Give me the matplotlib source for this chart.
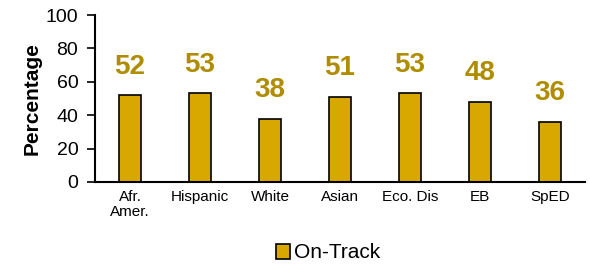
import matplotlib
matplotlib.use("Agg")
import matplotlib.pyplot as plt

categories = ["Afr.\nAmer.", "Hispanic", "White", "Asian", "Eco. Dis", "EB", "SpED"]
on_track = [52, 53, 38, 51, 53, 48, 36]
series_name = "On-Track"
y_ticks = [0, 20, 40, 60, 80, 100]

plt.rcParams['font.family'] = ['Liberation Sans', 'DejaVu Sans']

fig = plt.figure(figsize=(5.9, 2.68), dpi=100)
ax = fig.add_axes([95/590, 1-182/268, 490/590, 167/268])

x = list(range(len(categories)))
bars = ax.bar(x, on_track, width=0.31, color="#D9A800", edgecolor="black", linewidth=1.2, label=series_name)
for xi, v in zip(x, on_track):
    ax.text(xi, v + 17, str(v), ha="center", va="center", fontsize=20, fontweight="bold", color="#B08C00")

ax.set_xlim(-0.5, len(categories) - 0.5)
ax.set_ylim(0, 100)
ax.set_yticks(y_ticks)
ax.tick_params(axis="y", labelsize=14, length=6, width=1.2, direction="out", pad=6)
ax.tick_params(axis="x", length=0, labelsize=11, pad=6)
ax.set_xticks(x)
ax.set_xticklabels(categories, linespacing=1.1)
ax.set_ylabel("Percentage", fontsize=15, fontweight="bold")
ax.yaxis.set_label_coords(-53/490, 0.5)
for s in ["top", "right"]:
    ax.spines[s].set_visible(False)
for s in ["left", "bottom"]:
    ax.spines[s].set_linewidth(1.5)

fig.legend(handles=[bars], labels=[series_name], loc="center", bbox_to_anchor=(328/590, 1-253/268),
           frameon=False, fontsize=15, handlelength=0.7, handleheight=0.7, handletextpad=0.2)

fig.savefig("out.png", dpi=100)
